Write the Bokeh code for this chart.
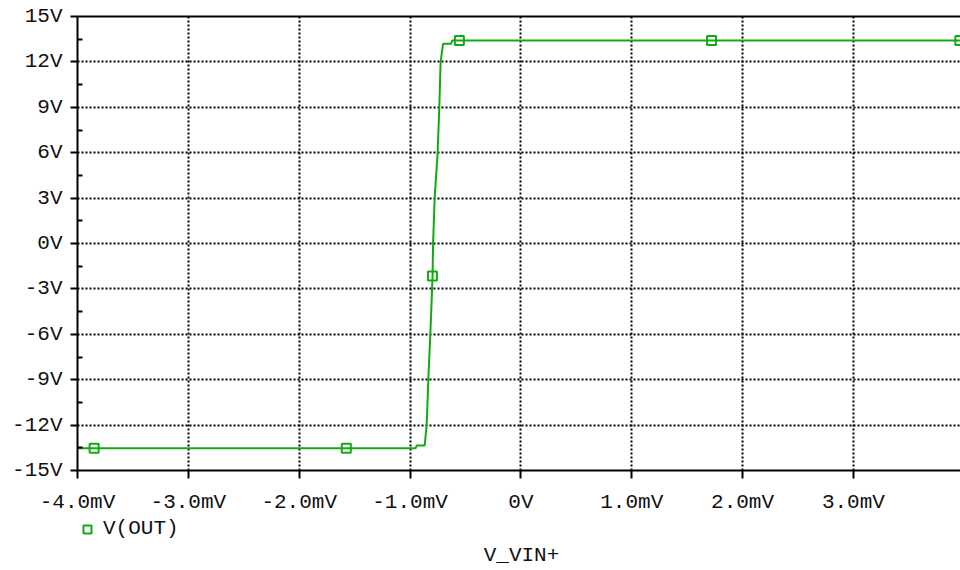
from bokeh.plotting import figure
from bokeh.layouts import column
from bokeh.models import (Range1d, FixedTicker, LinearAxis, Legend, LegendItem, Label)
from bokeh.embed import file_html
from bokeh.resources import INLINE

# ---- data (x in mV, y in V) ----
x_mv = [-4.0, -0.95, -0.94, -0.868, -0.850, -0.835, -0.817, -0.801, -0.797,
        -0.792, -0.778, -0.751, -0.736, -0.724, -0.702, -0.630, -0.618, 4.0]
v_out = [-13.53, -13.53, -13.35, -13.35, -12.0, -9.0, -6.0, -3.0, -2.14,
         0.0, 3.0, 6.0, 9.0, 12.0, 13.2, 13.2, 13.42, 13.42]

marker_x = [-3.85, -1.575, -0.798, -0.555, 1.72, 3.96]
marker_y = [-13.53, -13.53, -2.14, 13.42, 13.42, 13.42]

x_ticks = [-4.0, -3.0, -2.0, -1.0, 0.0, 1.0, 2.0, 3.0]
x_tick_labels = ["-4.0mV", "-3.0mV", "-2.0mV", "-1.0mV", "0V", "1.0mV", "2.0mV", "3.0mV"]
y_ticks = [-15, -12, -9, -6, -3, 0, 3, 6, 9, 12, 15]
y_tick_labels = ["-15V", "-12V", "-9V", "-6V", "-3V", "0V", "3V", "6V", "9V", "12V", "15V"]
y_minor = [-13.5, -10.5, -7.5, -4.5, -1.5, 1.5, 4.5, 7.5, 10.5, 13.5]

series_name = "V(OUT)"
x_title = "V_VIN+"

GREEN = "#12aa12"
FONT = "Liberation Mono"
FS = "21px"
TXT = "#111111"

p = figure(width=960, height=516,
           x_range=Range1d(-4.0, 3.966), y_range=Range1d(-15, 15),
           output_backend="svg", toolbar_location=None,
           min_border_left=77, min_border_right=0, min_border_top=16,
           min_border_bottom=45, background_fill_color="white",
           border_fill_color="white")
p.outline_line_color = None

# grid
p.xgrid.ticker = FixedTicker(ticks=x_ticks[1:])
p.ygrid.ticker = FixedTicker(ticks=y_ticks[1:-1])
for g in (p.xgrid, p.ygrid):
    g.grid_line_color = "black"
    g.grid_line_width = 2
    g.grid_line_dash = "2 2"

# x axis
xa = p.xaxis[0]
xa.ticker = FixedTicker(ticks=x_ticks)
xa.major_label_overrides = {t: l for t, l in zip(x_ticks, x_tick_labels)}
xa.axis_line_width = 2
xa.major_tick_line_width = 2
xa.major_tick_out = 8
xa.major_tick_in = 0
xa.minor_tick_line_color = None
xa.major_label_standoff = 12
xa.major_label_text_font = FONT
xa.major_label_text_font_size = FS
xa.major_label_text_color = TXT

# y axis
ya = p.yaxis[0]
ya.ticker = FixedTicker(ticks=y_ticks, minor_ticks=y_minor)
ya.major_label_overrides = {t: l for t, l in zip(y_ticks, y_tick_labels)}
ya.axis_line_width = 2
ya.major_tick_line_width = 2
ya.major_tick_out = 7
ya.major_tick_in = 0
ya.minor_tick_line_width = 2
ya.minor_tick_in = 5
ya.minor_tick_out = 0
ya.major_label_standoff = 8
ya.major_label_text_font = FONT
ya.major_label_text_font_size = FS
ya.major_label_text_color = TXT

# top border
top = LinearAxis(ticker=FixedTicker(ticks=[]), axis_line_width=2,
                 major_label_text_font_size="0px", major_tick_out=0,
                 major_tick_in=0, minor_tick_out=0, minor_tick_in=0)
p.add_layout(top, "above")

# data
p.line(x_mv, v_out, line_color=GREEN, line_width=2)
p.scatter(marker_x, marker_y, marker="square", size=9,
          fill_color=None, line_color=GREEN, line_width=2)

# ---- legend + x title strip ----
p2 = figure(width=960, height=54, x_range=Range1d(0, 1), y_range=Range1d(0, 1),
            x_axis_type=None, y_axis_type=None,
            output_backend="svg", toolbar_location=None,
            min_border_left=74, min_border_right=0, min_border_top=1,
            min_border_bottom=0, background_fill_color="white",
            border_fill_color="white")
p2.outline_line_color = None
p2.xgrid.visible = False
p2.ygrid.visible = False
# legend key renderer (its only point lies outside this strip's ranges)
key = p2.scatter(marker_x[:1], marker_y[:1], marker="square", size=9,
                 fill_color=None, line_color=GREEN, line_width=2)

legend = Legend(items=[LegendItem(label=series_name, renderers=[key])],
                location="top_left", orientation="horizontal",
                border_line_color=None, background_fill_alpha=0,
                label_text_font=FONT, label_text_font_size=FS,
                label_text_color=TXT,
                glyph_width=20, glyph_height=20, label_standoff=6,
                padding=0, margin=0, spacing=0)
p2.add_layout(legend, "center")

p2.add_layout(Label(x=444, y=15, x_units="screen", y_units="screen",
                    text=x_title, text_align="center", text_baseline="middle",
                    text_font=FONT, text_font_size=FS, text_color=TXT))

layout = column(p, p2, spacing=0)
open("out.html", "w").write(file_html(layout, INLINE))
